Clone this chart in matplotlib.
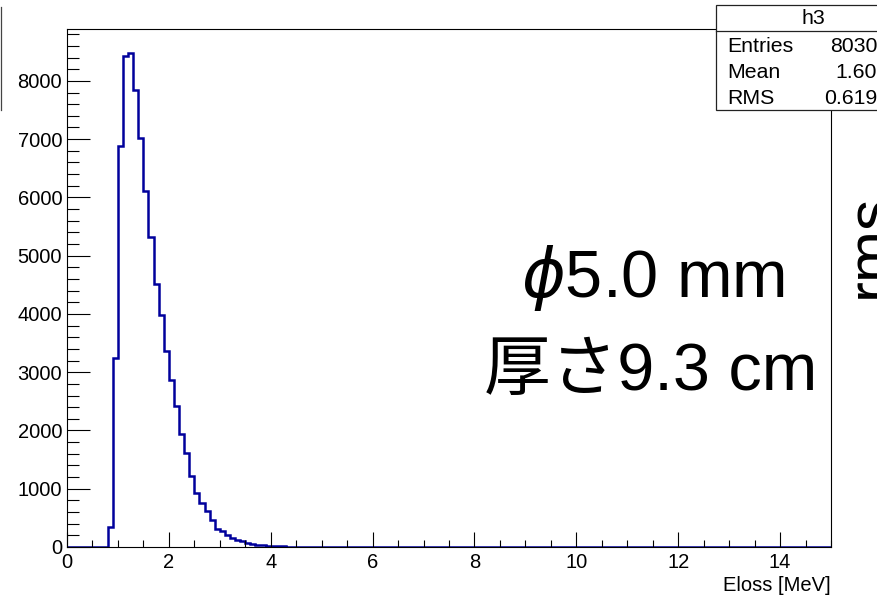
"""ROOT の h3 (Eloss 分布) スクリーンショットを matplotlib で再現する。"""

from __future__ import annotations

import matplotlib

matplotlib.use("Agg")
import matplotlib.pyplot as plt
import numpy as np
from matplotlib.lines import Line2D
from matplotlib.patches import Rectangle
from matplotlib.ticker import MultipleLocator

FIG_W_PX = 877
FIG_H_PX = 595
DPI = 100

# ヒストグラム (0-15 MeV, 0.1 MeV 幅) の各ビンの中身
X_MIN = 0.0
X_MAX = 15.0
COUNTS_0_TO_3 = [
    0, 0, 0, 0, 0, 0, 0, 0, 350, 3250,
    6880, 8435, 8475, 7845, 7016, 6112, 5328, 4509, 3983, 3365,
    2867, 2421, 1940, 1608, 1219, 921, 750, 624, 464, 303,
]
COUNTS_3_TO_5 = [
    280, 206, 150, 120, 95, 70, 52, 40, 30, 22,
    16, 12, 9, 7, 6, 5, 4, 3, 3, 2,
]
COUNTS_5_TO_15 = [
    2, 1, 2, 1, 1, 0, 1, 1, 0, 1,
    2, 1, 0, 1, 0, 1, 0, 0, 1, 0,
    1, 2, 1, 0, 0, 0, 1, 0, 1, 0,
    0, 0, 1, 0, 0, 0, 1, 2, 0, 0,
    1, 0, 2, 1, 0, 0, 0, 0, 1, 0,
    1, 2, 0, 0, 0, 0, 1, 0, 0, 0,
    0, 1, 0, 0, 0, 0, 0, 1, 0, 0,
    0, 0, 0, 1, 0, 0, 0, 0, 0, 1,
    0, 0, 1, 0, 0, 0, 0, 0, 0, 0,
    0, 0, 0, 0, 1, 0, 0, 0, 0, 0,
]

STATS_TITLE = "h3"
STATS_NAMES = ["Entries", "Mean", "RMS"]
STATS_VALUES = ["80300", "1.603", "0.6194"]

X_LABEL = "Eloss [MeV]"
NOTE_LINES = [r"$\phi$5.0 mm", "厚さ9.3 cm"]
SIDE_TEXT = "rms"

LINE_COLOR = "#00009c"
FONT_LIST = ["Liberation Sans", "Noto Sans CJK JP", "DejaVu Sans"]
TICK_SIZE = 14.5
STATS_SIZE = 15.3
NOTE_SIZE = 48


def px_x(x: float) -> float:
    """左端からのピクセルを figure 座標へ。"""
    return x / FIG_W_PX


def px_y(y: float) -> float:
    """上端からのピクセルを figure 座標へ。"""
    return 1.0 - y / FIG_H_PX


def draw_histogram(axes) -> None:
    counts = np.array(COUNTS_0_TO_3 + COUNTS_3_TO_5 + COUNTS_5_TO_15, dtype=float)
    edges = np.linspace(X_MIN, X_MAX, len(counts) + 1)
    axes.stairs(counts, edges, color=LINE_COLOR, linewidth=1.8, baseline=0)

    axes.set_xlim(X_MIN, X_MAX)
    axes.set_ylim(0, 1.05 * counts.max())

    axes.xaxis.set_major_locator(MultipleLocator(2))
    axes.xaxis.set_minor_locator(MultipleLocator(0.5))
    axes.yaxis.set_major_locator(MultipleLocator(1000))
    axes.yaxis.set_minor_locator(MultipleLocator(200))
    axes.tick_params(axis="both", which="both", direction="in", width=0.8,
                     colors="black", labelsize=TICK_SIZE, top=False, right=False)
    axes.tick_params(axis="x", which="major", length=10.8, pad=4)
    axes.tick_params(axis="x", which="minor", length=5.2)
    axes.tick_params(axis="y", which="major", length=16.5, pad=3.5)
    axes.tick_params(axis="y", which="minor", length=8.6)
    for spine in axes.spines.values():
        spine.set_linewidth(0.8)

    axes.set_xlabel(X_LABEL, fontsize=TICK_SIZE, loc="right", labelpad=3)


def draw_stats_box(fig) -> None:
    left, top, bottom, divider, right = 716, 5, 110, 31, 910
    fig.add_artist(Rectangle((px_x(left), px_y(bottom)), px_x(right - left),
                             (bottom - top) / FIG_H_PX, transform=fig.transFigure,
                             facecolor="white", edgecolor="#222222", linewidth=0.9,
                             zorder=5))
    fig.add_artist(Line2D([px_x(left), px_x(right)], [px_y(divider)] * 2,
                          transform=fig.transFigure, color="#222222",
                          linewidth=0.9, zorder=6))
    fig.text(px_x((left + right) / 2), px_y(18), STATS_TITLE, ha="center",
             va="center", fontsize=STATS_SIZE, zorder=7)
    for i, (name, value) in enumerate(zip(STATS_NAMES, STATS_VALUES)):
        y = px_y(46 + 26 * i)
        fig.text(px_x(727), y, name, ha="left", va="center", fontsize=STATS_SIZE,
                 zorder=7)
        fig.text(px_x(889), y, value, ha="right", va="center", fontsize=STATS_SIZE,
                 zorder=7)


def draw_notes(fig) -> None:
    fig.text(px_x(653), px_y(278), NOTE_LINES[0], ha="center", va="center",
             fontsize=NOTE_SIZE)
    fig.text(px_x(651), px_y(373), NOTE_LINES[1], ha="center", va="center",
             fontsize=NOTE_SIZE)
    fig.text(px_x(888), px_y(246), SIDE_TEXT, rotation=90, rotation_mode="anchor",
             ha="center", va="baseline", fontsize=45)
    # 左隣のパッドの枠の名残
    fig.add_artist(Line2D([px_x(1), px_x(1)], [px_y(7), px_y(110)],
                          transform=fig.transFigure, color="#444444", linewidth=0.9))


def main() -> None:
    plt.rcParams["font.family"] = FONT_LIST
    plt.rcParams["mathtext.fontset"] = "dejavusans"

    fig = plt.figure(figsize=(FIG_W_PX / DPI, FIG_H_PX / DPI), dpi=DPI)
    axes = fig.add_axes([px_x(67), px_y(547), (831 - 67) / FIG_W_PX,
                         (547 - 28.5) / FIG_H_PX])
    draw_histogram(axes)
    draw_stats_box(fig)
    draw_notes(fig)
    fig.savefig("out.png", dpi=DPI)
    plt.close(fig)


if __name__ == "__main__":
    main()
